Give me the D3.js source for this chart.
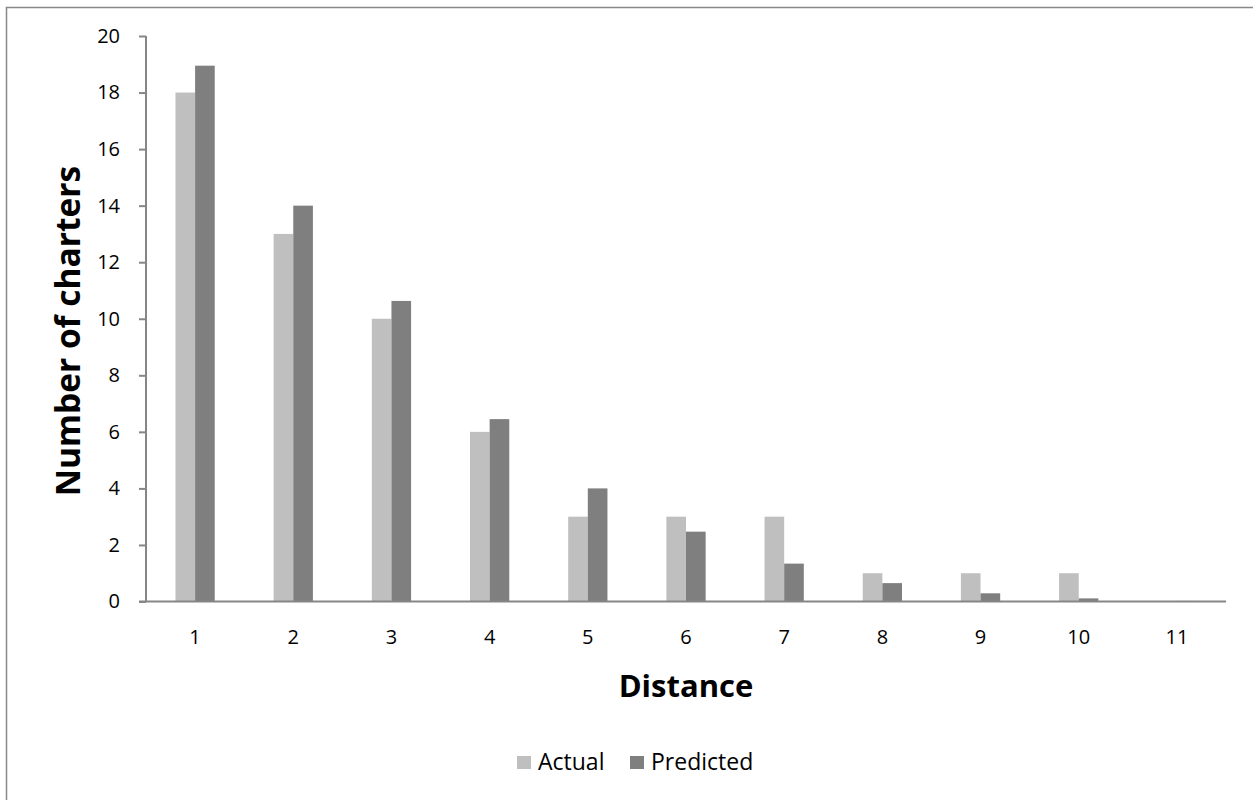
<!DOCTYPE html>
<html>
<head>
<meta charset="utf-8">
<script src="https://cdn.jsdelivr.net/npm/d3@7"></script>
<style>
  html, body { margin: 0; padding: 0; background: #fff; }
  svg { display: block; font-family: "Open Sans", sans-serif; }
</style>
</head>
<body>
<svg id="chart" width="1253" height="800"></svg>
<script>
// Chart data
const categories = ["1", "2", "3", "4", "5", "6", "7", "8", "9", "10", "11"];
const seriesNames = ["Actual", "Predicted"];
const actual = [18, 13, 10, 6, 3, 3, 3, 1, 1, 1, 0];
const predicted = [18.95, 14.0, 10.63, 6.45, 4.0, 2.47, 1.34, 0.65, 0.29, 0.11, 0.02];
const yTicks = [0, 2, 4, 6, 8, 10, 12, 14, 16, 18, 20];
const colors = ["#bfbfbf", "#7f7f7f"];

const svg = d3.select("#chart");

// Outer chart frame
svg.append("rect")
  .attr("x", 6.5).attr("y", 7.5)
  .attr("width", 1260).attr("height", 800)
  .attr("fill", "#fff")
  .attr("stroke", "#898989").attr("stroke-width", 1.5);

const plot = { left: 146, right: 1226, top: 36, bottom: 601.5 };

const x = d3.scaleBand()
  .domain(categories)
  .range([plot.left, plot.right])
  .paddingInner(0).paddingOuter(0);

const barW = x.bandwidth() / 5;
const xs = d3.scaleBand()
  .domain(seriesNames)
  .range([0, barW * 2]);

const y = d3.scaleLinear().domain([0, 20]).range([plot.bottom, plot.top]);

const rows = categories.map((c, i) => ({ cat: c, values: [actual[i], predicted[i]] }));

// Bars
const groups = svg.append("g").selectAll("g")
  .data(rows).join("g")
  .attr("transform", d => `translate(${x(d.cat) + (x.bandwidth() - barW * 2) / 2},0)`);

groups.selectAll("rect")
  .data(d => d.values.map((v, k) => ({ name: seriesNames[k], v, k })))
  .join("rect")
  .attr("x", d => xs(d.name))
  .attr("width", xs.bandwidth())
  .attr("y", d => y(d.v))
  .attr("height", d => y(0) - y(d.v))
  .attr("fill", d => colors[d.k]);

// Y axis
const yAxis = d3.axisLeft(y).tickValues(yTicks).tickSize(7).tickPadding(19);
const gy = svg.append("g").attr("transform", `translate(${plot.left},0)`).call(yAxis);
gy.select(".domain").attr("stroke", "#868686").attr("stroke-width", 2)
  .attr("d", `M0,${plot.bottom}V${plot.top}`);
gy.selectAll(".tick line").attr("stroke", "#868686").attr("stroke-width", 2);
gy.selectAll(".tick text").attr("font-size", 20).attr("fill", "#000")
  .attr("font-family", "'Open Sans', sans-serif");

// X axis
const xAxis = d3.axisBottom(x).tickSize(0).tickPadding(28);
const gx = svg.append("g").attr("transform", `translate(0,${plot.bottom})`).call(xAxis);
gx.select(".domain").attr("stroke", "#868686").attr("stroke-width", 2)
  .attr("d", `M${plot.left - 7},0H${plot.right}`);
gx.selectAll(".tick text").attr("font-size", 20).attr("fill", "#000")
  .attr("font-family", "'Open Sans', sans-serif");

// Axis titles
svg.append("text")
  .attr("x", (plot.left + plot.right) / 2).attr("y", 697)
  .attr("text-anchor", "middle")
  .attr("font-size", 31).attr("font-weight", "bold")
  .text("Distance");

svg.append("text")
  .attr("transform", "translate(80,331) rotate(-90)")
  .attr("text-anchor", "middle")
  .attr("font-size", 33.5).attr("font-weight", "bold")
  .text("Number of charters");

// Legend
const legend = svg.append("g");
const legendItems = [
  { name: seriesNames[0], color: colors[0], x: 517 },
  { name: seriesNames[1], color: colors[1], x: 630 }
];
legendItems.forEach(it => {
  legend.append("rect").attr("x", it.x).attr("y", 756)
    .attr("width", 14).attr("height", 13).attr("fill", it.color);
  legend.append("text").attr("x", it.x + 21).attr("y", 770)
    .attr("font-size", 23).attr("fill", "#000").text(it.name);
});
</script>
</body>
</html>
